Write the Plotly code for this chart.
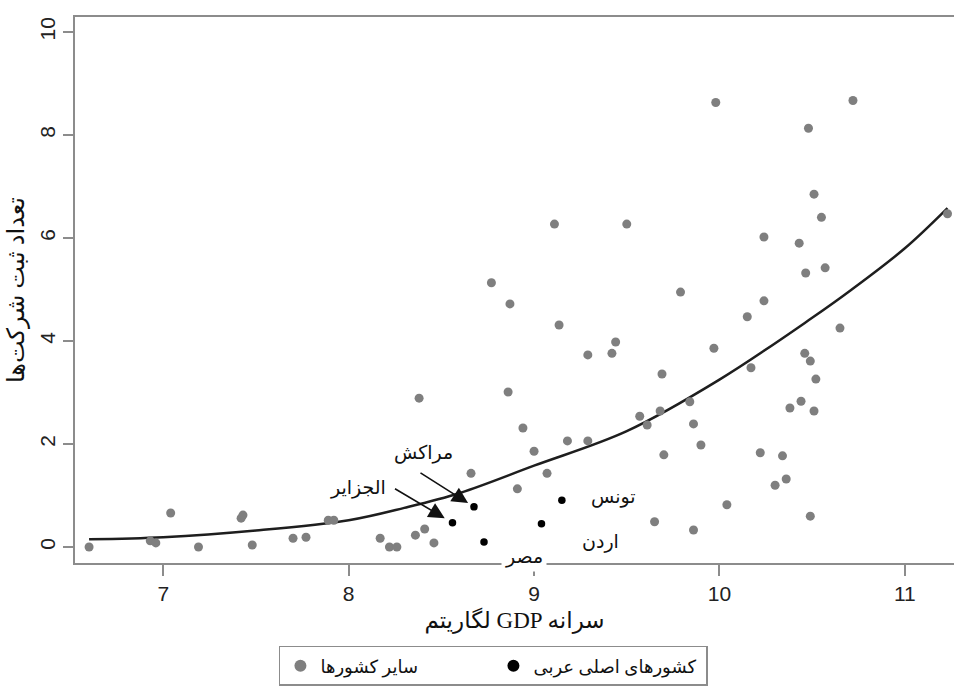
import plotly.graph_objects as go

# ---- data ----
other_x = [6.60, 6.93, 6.96, 7.04, 7.19, 7.42, 7.43, 7.48, 7.70, 7.77, 7.89, 7.92,
           8.17, 8.22, 8.26, 8.36, 8.41, 8.46, 8.38, 8.66, 8.77, 8.87, 8.86, 8.94,
           9.00, 8.91, 9.07, 9.135, 9.11, 9.18, 9.29, 9.29, 9.42, 9.44, 9.50, 9.57,
           9.61, 9.68, 9.69, 9.65, 9.70, 9.79, 9.84, 9.86, 9.86, 9.90, 9.97, 9.98,
           10.04, 10.15, 10.17, 10.22, 10.24, 10.24, 10.30, 10.34, 10.36, 10.38,
           10.43, 10.44, 10.46, 10.465, 10.48, 10.49, 10.49, 10.51, 10.51, 10.52,
           10.55, 10.57, 10.65, 10.72, 11.23]
other_y = [0.00, 0.12, 0.08, 0.66, 0.00, 0.56, 0.62, 0.04, 0.17, 0.19, 0.52, 0.52,
           0.17, 0.00, 0.00, 0.23, 0.35, 0.08, 2.89, 1.43, 5.13, 4.72, 3.01, 2.31,
           1.86, 1.13, 1.43, 4.31, 6.27, 2.06, 2.06, 3.73, 3.76, 3.98, 6.27, 2.54,
           2.37, 2.64, 3.36, 0.49, 1.79, 4.95, 2.82, 2.39, 0.33, 1.98, 3.86, 8.63,
           0.82, 4.47, 3.48, 1.83, 6.02, 4.78, 1.20, 1.77, 1.32, 2.70,
           5.90, 2.83, 3.76, 5.32, 8.13, 3.61, 0.60, 6.85, 2.64, 3.26,
           6.40, 5.42, 4.25, 8.67, 6.47]

arab_names = ["الجزایر", "مراکش", "مصر", "اردن", "تونس"]
arab_x = [8.56, 8.676, 8.73, 9.04, 9.15]
arab_y = [0.47, 0.78, 0.10, 0.45, 0.91]

fit_x = [6.60, 7.00, 7.50, 8.00, 8.30, 8.60, 9.00, 9.50, 10.00, 10.50, 10.71, 11.00, 11.23]
fit_y = [0.15, 0.19, 0.32, 0.52, 0.76, 1.05, 1.58, 2.25, 3.25, 4.45, 4.99, 5.80, 6.58]

x_ticks = [7, 8, 9, 10, 11]
y_ticks = [0, 2, 4, 6, 8, 10]

x_title = "لگاریتم GDP سرانه"
y_title = "تعداد ثبت شرکت‌ها"
legend_other = "سایر کشورها"
legend_arab = "کشورهای اصلی عربی"

# ---- figure ----
serif = "Liberation Serif, DejaVu Sans, serif"
sans = "Liberation Sans, Arial, sans-serif"
axis_gray = "#8c8c8c"

fig = go.Figure()
fig.add_trace(go.Scatter(
    x=fit_x, y=fit_y, mode="lines", line=dict(color="#1e1e1e", width=2.5, shape="spline"),
    showlegend=False, hoverinfo="skip"))
fig.add_trace(go.Scatter(
    x=other_x, y=other_y, mode="markers", name=legend_other,
    marker=dict(color="#7f7f7f", size=9)))
fig.add_trace(go.Scatter(
    x=arab_x, y=arab_y, mode="markers", name=legend_arab,
    marker=dict(color="#000000", size=7.5)))

# labels (positions given as pixel offsets relative to the data point)
label_cfg = {
    "الجزایر": dict(xshift=-94, yshift=35, arrow=(-59, -35, 9)),
    "مراکش": dict(xshift=-50, yshift=54, arrow=(-55, -35, 7)),
    "مصر": dict(xshift=40, yshift=-15, arrow=None),
    "اردن": dict(xshift=59, yshift=-18, arrow=None),
    "تونس": dict(xshift=52, yshift=3, arrow=None),
}
for name, xv, yv in zip(arab_names, arab_x, arab_y):
    cfg = label_cfg[name]
    fig.add_annotation(x=xv, y=yv, text=name, showarrow=False,
                       xshift=cfg["xshift"], yshift=cfg["yshift"],
                       font=dict(family=serif, size=19, color="#111111"),
                       bgcolor="white", borderpad=3)
    if cfg["arrow"] is not None:
        ax, ay, so = cfg["arrow"]
        fig.add_annotation(x=xv, y=yv, text="", showarrow=True, ax=ax, ay=ay,
                           arrowhead=2, arrowsize=2.0, arrowwidth=1.6,
                           arrowcolor="#111111", standoff=so)

fig.update_layout(
    width=954, height=692,
    margin=dict(l=75, r=0, t=17, b=129),
    paper_bgcolor="white", plot_bgcolor="white",
    showlegend=True,
    legend=dict(orientation="h", x=0.232, xanchor="left", y=-0.152, yanchor="top",
                bordercolor="#8c8c8c", borderwidth=1.5, bgcolor="white",
                entrywidth=168, entrywidthmode="pixels",
                font=dict(family=serif, size=18, color="#111111"),
                itemsizing="constant"),
)
fig.update_xaxes(
    range=[6.524, 11.265], tickmode="array", tickvals=x_ticks,
    ticktext=[str(v) for v in x_ticks],
    showgrid=False, zeroline=False, showline=True, linecolor=axis_gray, linewidth=2,
    mirror=True, ticks="outside", ticklen=11, tickwidth=1.5, tickcolor=axis_gray,
    tickfont=dict(family=sans, size=21, color="#222222"),
    title=dict(text=x_title, standoff=8, font=dict(family=serif, size=23, color="#111111")),
)
fig.update_yaxes(
    range=[-0.31, 10.29], tickmode="array", tickvals=y_ticks,
    ticktext=[str(v) for v in y_ticks], tickangle=-90,
    showgrid=False, zeroline=False, showline=True, linecolor=axis_gray, linewidth=2,
    ticks="outside", ticklen=10, tickwidth=1.5, tickcolor=axis_gray,
    tickfont=dict(family=sans, size=21, color="#222222"),
    title=dict(text=y_title, standoff=4, font=dict(family=serif, size=24, color="#111111")),
)

fig.write_html("out.html")
